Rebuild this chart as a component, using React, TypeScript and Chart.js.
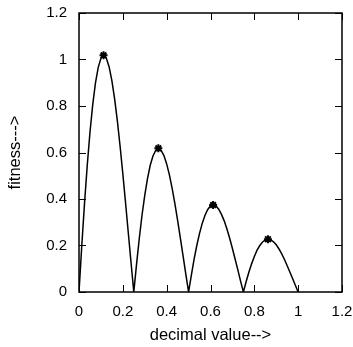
import { useEffect, useRef } from "react";
import { Chart, registerables } from "chart.js";

Chart.register(...registerables);

const xValues = [
  0, 0.0125, 0.025, 0.0375, 0.05, 0.0625, 0.075, 0.0875, 0.1, 0.1125,
  0.125, 0.1375, 0.15, 0.1625, 0.175, 0.1875, 0.2, 0.2125, 0.225, 0.2375,
  0.25, 0.2625, 0.275, 0.2875, 0.3, 0.3125, 0.325, 0.3375, 0.35, 0.3625,
  0.375, 0.3875, 0.4, 0.4125, 0.425, 0.4375, 0.45, 0.4625, 0.475, 0.4875,
  0.5, 0.5125, 0.525, 0.5375, 0.55, 0.5625, 0.575, 0.5875, 0.6, 0.6125,
  0.625, 0.6375, 0.65, 0.6625, 0.675, 0.6875, 0.7, 0.7125, 0.725, 0.7375,
  0.75, 0.7625, 0.775, 0.7875, 0.8, 0.8125, 0.825, 0.8375, 0.85, 0.8625,
  0.875, 0.8875, 0.9, 0.9125, 0.925, 0.9375, 0.95, 0.9625, 0.975, 0.9875,
  1,
];

const fitness = [
  0, 0.197, 0.379, 0.543, 0.686, 0.805, 0.898, 0.965, 1.005, 1.017,
  1.005, 0.968, 0.909, 0.831, 0.736, 0.627, 0.508, 0.383, 0.254, 0.126,
  0, 0.119, 0.23, 0.33, 0.416, 0.488, 0.545, 0.585, 0.609, 0.617,
  0.609, 0.587, 0.551, 0.504, 0.446, 0.38, 0.308, 0.232, 0.154, 0.076,
  0, 0.072, 0.14, 0.2, 0.252, 0.296, 0.33, 0.355, 0.37, 0.374,
  0.37, 0.356, 0.334, 0.306, 0.271, 0.231, 0.187, 0.141, 0.094, 0.046,
  0, 0.044, 0.085, 0.121, 0.153, 0.18, 0.2, 0.215, 0.224, 0.227,
  0.224, 0.216, 0.203, 0.185, 0.164, 0.14, 0.113, 0.085, 0.057, 0.028,
  0,
];

const peakX = [0.112, 0.362, 0.612, 0.862];
const peakY = [1.018, 0.618, 0.374, 0.227];

const xTicks = [0, 0.2, 0.4, 0.6, 0.8, 1, 1.2];
const yTicks = [0, 0.2, 0.4, 0.6, 0.8, 1, 1.2];

const FONT = "'Liberation Sans', Arial, Helvetica, sans-serif";

const framePlugin = {
  id: "frame",
  afterDatasetsDraw(chart: any) {
    const { ctx, chartArea, scales } = chart;
    const { left, right, top, bottom } = chartArea;
    const xs = scales.x;
    const ys = scales.y;
    const len = 7;
    ctx.save();
    ctx.strokeStyle = "#000";
    ctx.lineWidth = 1;
    ctx.beginPath();
    xTicks.forEach((v) => {
      const px = Math.round(xs.getPixelForValue(v)) + 0.5;
      ctx.moveTo(px, bottom);
      ctx.lineTo(px, bottom - len);
      ctx.moveTo(px, top);
      ctx.lineTo(px, top + len);
    });
    yTicks.forEach((v) => {
      const py = Math.round(ys.getPixelForValue(v)) + 0.5;
      ctx.moveTo(left, py);
      ctx.lineTo(left + len, py);
      ctx.moveTo(right, py);
      ctx.lineTo(right - len, py);
    });
    ctx.stroke();
    ctx.lineWidth = 1.5;
    ctx.strokeRect(left, top, right - left, bottom - top);
    ctx.restore();
  },
};

export default function App() {
  const ref = useRef<HTMLCanvasElement>(null);

  useEffect(() => {
    if (!ref.current) return;
    const chart = new Chart(ref.current, {
      type: "line",
      data: {
        datasets: [
          {
            data: xValues.map((x, i) => ({ x, y: fitness[i] })),
            borderColor: "#000",
            borderWidth: 1.5,
            pointRadius: 0,
            fill: false,
            tension: 0,
          },
          {
            data: peakX.map((x, i) => ({ x, y: peakY[i] })),
            showLine: false,
            pointStyle: "star",
            pointRadius: 4,
            borderColor: "#000",
            backgroundColor: "#000",
            pointBorderWidth: 2,
          },
        ],
      },
      options: {
        responsive: false,
        animation: false,
        layout: { padding: { top: 13, right: 11, left: 0, bottom: 0 } },
        plugins: {
          legend: { display: false },
          tooltip: { enabled: false },
        },
        scales: {
          x: {
            type: "linear",
            min: 0,
            max: 1.2,
            grid: { display: false, drawTicks: false },
            border: { display: false },
            afterBuildTicks: (s: any) => {
              s.ticks = xTicks.map((v) => ({ value: v }));
            },
            afterFit: (s: any) => {
              s.height = 55;
              s.paddingLeft = 0;
              s.paddingRight = 0;
            },
            ticks: {
              color: "#000",
              font: { family: FONT, size: 15 },
              padding: 11,
              maxRotation: 0,
              callback: (v: any) => String(v),
            },
            title: {
              display: true,
              text: "decimal value-->",
              color: "#000",
              font: { family: FONT, size: 16.5 },
              padding: { top: 2, bottom: 2 },
            },
          },
          y: {
            type: "linear",
            min: 0,
            max: 1.2,
            grid: { display: false, drawTicks: false },
            border: { display: false },
            afterBuildTicks: (s: any) => {
              s.ticks = yTicks.map((v) => ({ value: v }));
            },
            afterFit: (s: any) => {
              s.width = 79;
              s.paddingTop = 0;
              s.paddingBottom = 0;
            },
            ticks: {
              color: "#000",
              font: { family: FONT, size: 15 },
              padding: 12,
              callback: (v: any) => String(v),
            },
            title: {
              display: true,
              text: "fitness--->",
              color: "#000",
              font: { family: FONT, size: 16.5 },
              padding: { top: 6, bottom: 2 },
            },
          },
        },
      },
      plugins: [framePlugin],
    });
    return () => chart.destroy();
  }, []);

  return (
    <div style={{ position: "absolute", left: 0, top: 0, width: 353, height: 347, background: "#fff" }}>
      <canvas ref={ref} width={353} height={347} style={{ display: "block" }} />
    </div>
  );
}
